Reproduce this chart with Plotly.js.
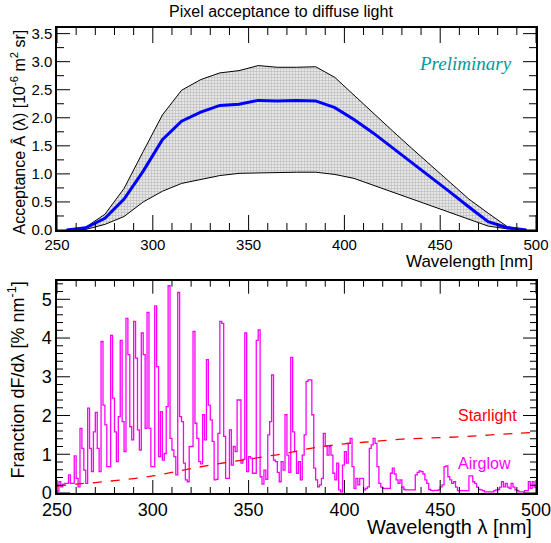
<!DOCTYPE html>
<html>
<head>
<meta charset="utf-8">
<script src="https://cdn.plot.ly/plotly-3.0.1.min.js"></script>
<style>html,body{margin:0;padding:0;background:#fff;}#chart{width:551px;height:543px;}</style>
</head>
<body>
<div id="chart"></div>
<script>
// ---------- Top panel: pixel acceptance ----------
var accWavelength = [255,265,275,285,295,305,315,325,335,345,355,365,375,385,395,405,415,425,435,445,455,465,475,485,495];
var accUpper  = [0,0.05,0.28,0.74,1.40,2.05,2.49,2.68,2.80,2.84,2.93,2.90,2.90,2.91,2.72,2.40,2.08,1.77,1.46,1.16,0.85,0.55,0.30,0.06,0];
var accMean   = [0,0.04,0.21,0.55,1.05,1.61,1.94,2.10,2.22,2.24,2.31,2.30,2.31,2.30,2.18,1.97,1.73,1.47,1.21,0.95,0.68,0.41,0.15,0.04,0];
var accLower  = [0,0.01,0.10,0.24,0.50,0.69,0.83,0.90,0.97,1.01,1.02,1.03,1.03,1.03,0.99,0.92,0.80,0.68,0.56,0.44,0.32,0.19,0.07,0.02,0];

// ---------- Bottom panel: airglow spectrum (1 nm bins from 250 nm) ----------
var airglowStart = 250;
var airglowBinWidth = 1;
var airglow = [
 0.05,0.29,0.16,0.23,0.25,0.25,0.47,0.25,0.25,0.96,
 0.38,0.16,1.67,1.15,0.59,0.25,2.19,1.15,0.55,1.58,
 2.08,1.15,0.55,3.91,2.27,1.76,0.68,0.68,4.07,2.45,
 1.58,0.81,1.97,3.94,1.84,1.07,4.51,3.57,1.71,1.37,
 4.43,3.48,1.63,1.11,4.13,3.57,1.67,4.66,1.67,0.68,
 0.68,4.83,3.26,0.94,2.10,0.85,1.02,2.23,5.35,1.41,
 1.11,0.94,0.47,5.18,1.97,1.84,0.77,0.34,0.29,1.20,
 1.20,4.17,1.80,1.41,0.81,0.75,2.02,1.37,3.44,2.27,
 1.89,1.33,0.34,0.35,1.54,4.43,4.38,1.46,0.38,0.38,
 1.63,0.72,1.20,1.07,2.40,2.40,0.77,0.87,4.13,0.55,
 0.94,0.90,0.51,0.51,3.94,4.21,0.42,0.23,0.59,0.35,
 1.50,1.84,3.05,0.85,0.81,0.53,0.29,0.81,0.59,2.02,
 0.98,0.53,3.50,1.58,1.07,0.51,0.81,0.34,0.98,1.50,
 2.88,2.92,2.92,2.02,0.64,0.34,0.16,0.21,0.38,1.54,
 1.21,0.98,1.20,0.98,0.51,0.34,0.77,0.08,0.03,0.72,
 1.07,0.77,1.28,1.41,0.68,0.12,0.38,0.21,0.38,0.38,
 0.08,0.12,0.16,1.15,1.24,1.41,1.28,0.68,0.25,0.15,
 0.12,0.12,0.12,0.12,0.51,0.64,0.49,0.34,0.25,0.34,
 0.16,0.09,0.08,0.08,0.08,0.08,0.08,0.47,0.53,0.57,
 0.55,0.49,0.34,0.25,0.09,0.07,0.06,0.07,0.07,0.08,
 0.16,0.21,0.68,0.70,0.42,0.34,0.25,0.29,0.15,0.06,
 0.06,0.06,0.06,0.06,0.06,0.44,0.44,0.29,0.25,0.15,
 0.09,0.08,0.06,0.03,0.03,0.03,0.03,0.03,0.06,0.08,
 0.09,0.15,0.29,0.16,0.25,0.15,0.12,0.25,0.15,0.08,
 0.06,0.03,0.03,0.03,0.06,0.06,0.29,0.12,0.29,0.15
];

// Starlight curve
var starWavelength = [250,260,270,280,290,300,310,320,330,340,350,360,370,380,390,400,410,420,430,440,450,460,470,480,490,500];
var starlight = [0.18,0.23,0.27,0.32,0.37,0.44,0.53,0.63,0.72,0.80,0.87,0.95,1.03,1.13,1.21,1.27,1.31,1.35,1.39,1.41,1.43,1.45,1.48,1.51,1.54,1.57];

var FONT = 'Liberation Sans, Arial, Helvetica, sans-serif';

var W = 551, H = 543;
var XDOM = [57/W, 536/W];
var YDOM1 = [1-230/H, 1-28/H];
var YDOM2 = [1-493/H, 1-280.7/H];
var XR = [250, 500], YR1 = [0, 3.6], YR2 = [0, 5.48];
var plotWpx = (XDOM[1]-XDOM[0])*W;
var p1Hpx = (YDOM1[1]-YDOM1[0])*H;
var p2Hpx = (YDOM2[1]-YDOM2[0])*H;

var histX = airglow.map(function(_, i){ return airglowStart + i*airglowBinWidth; });
histX.push(airglowStart + airglow.length*airglowBinWidth);
var histY = airglow.slice(); histY.push(airglow[airglow.length-1]);

// ROOT-style tick marks on all four frame edges, generated from the axis ranges and tick spacing
function frameTicks(xa, ya, yr, plotH, xMinor, xMajor, xMaj, xMin, yMinor, yMajor, yMaj, yMin, yEnd){
  var xs = [], ys = [];
  var xSpan = XR[1]-XR[0], ySpan = yr[1]-yr[0];
  function isMaj(v, s, step){ var q = (v - s)/step; return Math.abs(q - Math.round(q)) < 1e-6; }
  for (var v = XR[0]; v <= XR[1] + 1e-9; v += xMinor){
    var L = (isMaj(v, XR[0], xMajor) ? xMaj : xMin) / plotH * ySpan;
    xs.push(v, v, null, v, v, null);
    ys.push(yr[0], yr[0]+L, null, yr[1], yr[1]-L, null);
  }
  for (var k = 0; yr[0] + k*yMinor <= yEnd + 1e-9; k++){
    var w = yr[0] + k*yMinor;
    var Lx = (isMaj(w, yr[0], yMajor) ? yMaj : yMin) / plotWpx * xSpan;
    xs.push(XR[0], XR[0]+Lx, null, XR[1], XR[1]-Lx, null);
    ys.push(w, w, null, w, w, null);
  }
  return {x: xs, y: ys, type:'scatter', mode:'lines', line:{color:'#000', width:1}, connectgaps:false,
          xaxis: xa, yaxis: ya, hoverinfo:'skip'};
}

var traces = [
  {x: accWavelength, y: accLower, type:'scatter', mode:'lines', line:{color:'#000', width:1}, xaxis:'x', yaxis:'y'},
  {x: accWavelength, y: accUpper, type:'scatter', mode:'lines', line:{color:'#000', width:1}, fill:'tonexty',
   fillcolor:'#d6d6d6',
   fillpattern:{shape:'+', fgcolor:'#b8b8b8', bgcolor:'#e6e6e6', size:3, solidity:0.35},
   xaxis:'x', yaxis:'y'},
  {x: accWavelength, y: accMean, type:'scatter', mode:'lines', line:{color:'#0000ff', width:3}, xaxis:'x', yaxis:'y'},
  {x: histX, y: histY, type:'scatter', mode:'lines', line:{color:'#ff00ff', width:1.3, shape:'hv'}, xaxis:'x2', yaxis:'y2'},
  {x: starWavelength, y: starlight, type:'scatter', mode:'lines', line:{color:'#ff0000', width:1.3, dash:'dash', shape:'spline'}, xaxis:'x2', yaxis:'y2'},
  frameTicks('x', 'y', YR1, p1Hpx, 10, 50, 15, 7, 0.25, 0.5, 13, 7, 3.5),
  frameTicks('x2', 'y2', YR2, p2Hpx, 10, 50, 13, 6, 0.2, 1, 13, 6, 5.4)
];

function xax(anchor, fsize){
  return {domain:XDOM, range:XR, anchor:anchor, showline:true, linewidth:1.6, linecolor:'#000',
    mirror:true, ticks:'', dtick:50,
    showgrid:false, zeroline:false, tickfont:{family:FONT, size:fsize, color:'#000'},
    ticklabeloverflow:'allow'};
}

var layout = {
  width:W, height:H, margin:{l:0,r:0,t:0,b:0}, showlegend:false,
  paper_bgcolor:'#fff', plot_bgcolor:'#fff', font:{family:FONT, color:'#000'},
  xaxis: xax('y', 15),
  yaxis: {domain:YDOM1, range:YR1, anchor:'x', showline:true, linewidth:1.6, linecolor:'#000',
    mirror:true, ticks:'', dtick:0.5, tickformat:'.1f',
    showgrid:false, zeroline:false, tickfont:{family:FONT, size:15, color:'#000'}},
  xaxis2: xax('y2', 18),
  yaxis2: {domain:YDOM2, range:YR2, anchor:'x2', showline:true, linewidth:1.6, linecolor:'#000',
    mirror:true, ticks:'', dtick:1,
    showgrid:false, zeroline:false, tickfont:{family:FONT, size:18, color:'#000'}},
  annotations: [
    {text:'Pixel acceptance to diffuse light', xref:'paper', yref:'paper', x:281/W, y:1-12/H, xanchor:'center', yanchor:'middle', showarrow:false, font:{family:FONT, size:16, color:'#000'}},
    {text:'Preliminary', xref:'paper', yref:'paper', x:465/W, y:1-63/H, xanchor:'center', yanchor:'middle', showarrow:false, font:{family:'Liberation Serif, Times New Roman, serif', size:19, color:'#009a9a', style:'italic'}},
    {text:'Wavelength [nm]', xref:'paper', yref:'paper', x:535/W, y:1-261/H, xanchor:'right', yanchor:'middle', showarrow:false, font:{family:FONT, size:17, color:'#000'}},
    {text:'Acceptance Â (λ) [10<sup>-6</sup> m<sup>2</sup> sr]', xref:'paper', yref:'paper', x:18/W, y:1-28/H, xanchor:'center', yanchor:'top', textangle:-90, showarrow:false, font:{family:FONT, size:16, color:'#000'}},
    {text:'Wavelength λ [nm]', xref:'paper', yref:'paper', x:534/W, y:1-527/H, xanchor:'right', yanchor:'middle', showarrow:false, font:{family:FONT, size:20, color:'#000'}},
    {text:'Franction dF/dλ [% nm<sup>-1</sup>]', xref:'paper', yref:'paper', x:17/W, y:1-280/H, xanchor:'center', yanchor:'top', textangle:-90, showarrow:false, font:{family:FONT, size:18, color:'#000'}},
    {text:'Starlight', xref:'paper', yref:'paper', x:487/W, y:1-415/H, xanchor:'center', yanchor:'middle', showarrow:false, font:{family:FONT, size:16, color:'#ff0000'}},
    {text:'Airglow', xref:'paper', yref:'paper', x:484/W, y:1-463/H, xanchor:'center', yanchor:'middle', showarrow:false, font:{family:FONT, size:16, color:'#ff00ff'}}
  ]
};

Plotly.newPlot('chart', traces, layout, {staticPlot:true, displayModeBar:false});
</script>
</body>
</html>
